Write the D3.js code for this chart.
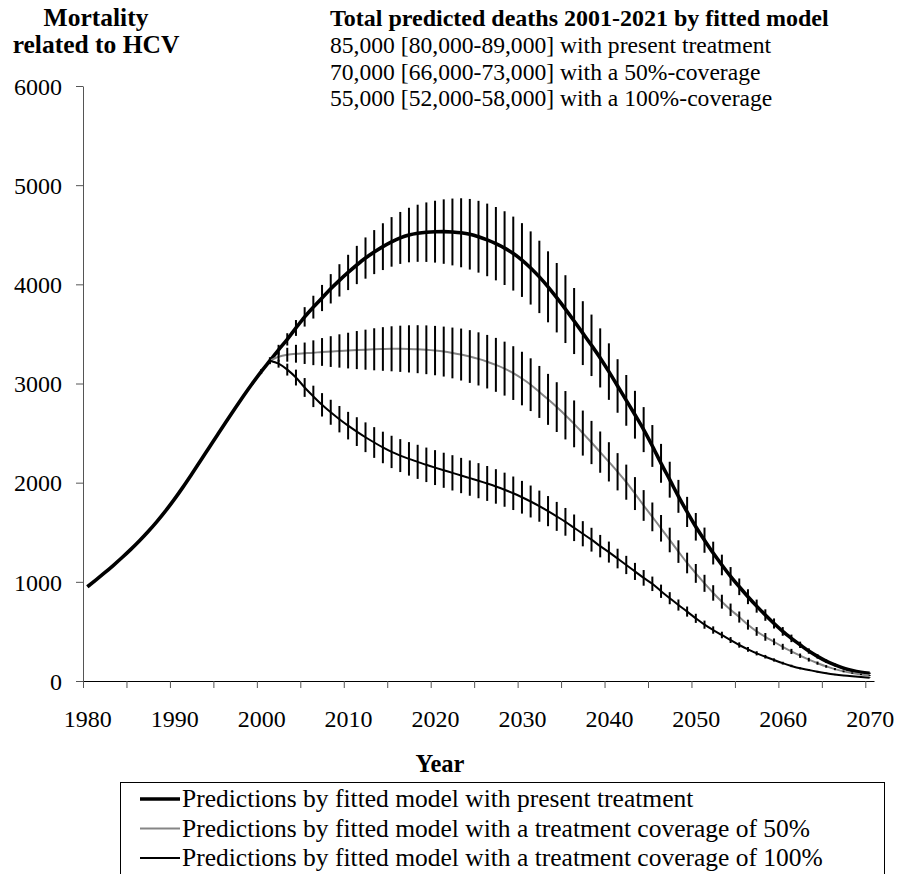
<!DOCTYPE html>
<html>
<head>
<meta charset="utf-8">
<script src="https://d3js.org/d3.v7.min.js"></script>
<style>
  body { margin: 0; background: #fff; }
</style>
</head>
<body>
<div id="chart"></div>
<script>
// categories: one per year
const firstYear = 1980, lastYear = 2070;
const years = d3.range(firstYear, lastYear + 1);
const labelYears = [1980, 1990, 2000, 2010, 2020, 2030, 2040, 2050, 2060, 2070];
const yTicks = [0, 1000, 2000, 3000, 4000, 5000, 6000];

// predictions with present treatment, 1980-2070
const present = [950, 1020, 1092, 1167, 1245, 1327, 1414, 1507, 1607, 1715,
  1831, 1955, 2085, 2218, 2352, 2486, 2619, 2750, 2878, 3002,
  3120, 3230, 3340, 3445, 3560, 3672, 3770, 3862, 3955, 4040,
  4120, 4195, 4265, 4325, 4380, 4428, 4468, 4497, 4515, 4526,
  4531, 4532, 4528, 4520, 4505, 4480, 4448, 4410, 4365, 4310,
  4245, 4165, 4075, 3975, 3865, 3750, 3630, 3508, 3385, 3258,
  3120, 2975, 2830, 2685, 2535, 2370, 2195, 2030, 1862, 1705,
  1555, 1420, 1290, 1170, 1055, 950, 850, 755, 665, 580,
  500, 430, 365, 302, 248, 200, 162, 130, 105, 88,
  78];
// half width of the bars, 1999-2070
const presentErr = [15, 25, 35, 50, 62, 80, 98, 115, 132, 148,
  163, 178, 193, 208, 222, 236, 250, 262, 275, 288,
  300, 312, 325, 337, 348, 356, 362, 366, 370, 372,
  373, 372, 369, 365, 358, 350, 342, 333, 322, 310,
  298, 285, 270, 256, 241, 227, 211, 196, 181, 166,
  152, 139, 127, 115, 104, 94, 84, 75, 66, 58,
  51, 44, 38, 32, 27, 22, 18, 15, 12, 10,
  8, 7];

// coverage 50%, 2001-2070
const cov50 = [3230, 3270, 3290, 3300, 3305, 3310, 3318, 3322, 3328, 3332,
  3337, 3341, 3345, 3348, 3350, 3350, 3349, 3346, 3340, 3332,
  3322, 3308, 3292, 3272, 3248, 3220, 3188, 3150, 3105, 3050,
  2988, 2915, 2840, 2762, 2680, 2593, 2500, 2405, 2308, 2210,
  2110, 2005, 1890, 1770, 1655, 1540, 1422, 1305, 1190, 1085,
  985, 888, 800, 718, 645, 568, 500, 445, 395, 345,
  298, 255, 215, 180, 147, 120, 97, 80, 66, 55];
// 2002-2070
const cov50Err = [50, 70, 90, 108, 125, 140, 155, 168, 180, 192,
  202, 212, 220, 227, 233, 238, 242, 246, 249, 252,
  256, 262, 266, 268, 270, 272, 272, 271, 270, 266,
  262, 257, 251, 244, 236, 227, 218, 208, 198, 188,
  177, 166, 155, 145, 134, 124, 114, 104, 95, 86,
  78, 70, 63, 56, 50, 44, 39, 34, 30, 26,
  22, 19, 16, 13, 11, 9, 7, 6, 5];

// coverage 100%, 2001-2070
const cov100 = [3230, 3200, 3140, 3060, 2960, 2870, 2785, 2710, 2640, 2575,
  2515, 2458, 2405, 2355, 2310, 2273, 2240, 2210, 2180, 2152,
  2125, 2099, 2072, 2046, 2020, 1992, 1962, 1929, 1893, 1853,
  1810, 1763, 1713, 1660, 1605, 1545, 1485, 1425, 1360, 1300,
  1235, 1170, 1105, 1040, 980, 905, 835, 766, 700, 632,
  568, 514, 464, 413, 363, 319, 279, 245, 212, 180,
  152, 128, 111, 94, 78, 65, 55, 47, 40, 34];
// 2002-2070
const cov100Err = [40, 60, 80, 95, 108, 118, 126, 133, 139, 145,
  150, 155, 159, 163, 166, 169, 172, 174, 176, 177,
  178, 178, 178, 177, 176, 174, 172, 169, 165, 161,
  157, 152, 146, 140, 134, 127, 120, 113, 106, 99,
  92, 86, 79, 73, 67, 61, 56, 51, 46, 41,
  37, 33, 30, 27, 24, 21, 18, 16, 14, 12,
  10, 9, 8, 7, 6, 5, 4, 4, 3];

const summary = [
  "85,000 [80,000-89,000] with present treatment",
  "70,000 [66,000-73,000] with a 50%-coverage",
  "55,000 [52,000-58,000] with a 100%-coverage"
];
const legendNames = [
  "Predictions by fitted model with present treatment",
  "Predictions by fitted model with a treatment coverage of 50%",
  "Predictions by fitted model with a treatment coverage of 100%"
];

function toPoints(vals, start) {
  return vals.map((v, i) => ({year: start + i, v: v}));
}
function toBars(vals, errs, start, errStart) {
  return errs.map((e, i) => {
    const yr = errStart + i;
    return {year: yr, v: vals[yr - start], e: e};
  });
}

const series = [
  {name: legendNames[0], pts: toPoints(present, 1980), bars: toBars(present, presentErr, 1980, 1999), color: "#000", w: 3.6},
  {name: legendNames[1], pts: toPoints(cov50, 2001), bars: toBars(cov50, cov50Err, 2001, 2002), color: "#858585", w: 2},
  {name: legendNames[2], pts: toPoints(cov100, 2001), bars: toBars(cov100, cov100Err, 2001, 2002), color: "#000", w: 2}
];

const FONT = "'Liberation Serif', 'Times New Roman', serif";
const W = 899, H = 874;
const svg = d3.select("#chart").append("svg")
  .attr("width", W).attr("height", H)
  .style("font-family", FONT);

const x = d3.scaleLinear().domain([firstYear - 0.5, lastYear + 0.5]).range([83, 874]);
const y = d3.scaleLinear().domain([0, 6000]).range([681, 86]);
const fs = 24;

// y axis
const yAx = svg.append("g")
  .attr("transform", "translate(83,0)")
  .call(d3.axisLeft(y).tickValues(yTicks).tickSize(7).tickSizeOuter(0).tickPadding(14).tickFormat(d3.format("d")));
yAx.attr("font-family", null).attr("font-size", null);
yAx.select(".domain").attr("stroke", "#555");
yAx.selectAll(".tick line").attr("stroke", "#555");
yAx.selectAll("text").style("font-size", fs + "px").style("font-family", FONT).attr("dy", "0.34em");

// x axis: tick marks between categories, every 5 years
const boundaries = d3.range(0, 19).map(k => firstYear - 0.5 + k * 5);
const xAx = svg.append("g")
  .attr("transform", "translate(0,681)")
  .call(d3.axisBottom(x).tickValues(boundaries).tickSize(7).tickSizeOuter(0).tickFormat(""));
xAx.select(".domain").attr("stroke", "#000");
xAx.selectAll(".tick line").attr("stroke", "#555");

const xLab = svg.append("g")
  .attr("transform", "translate(0,681)")
  .call(d3.axisBottom(x).tickValues(labelYears).tickSize(0).tickPadding(29).tickFormat(d3.format("d")));
xLab.attr("font-family", null).attr("font-size", null);
xLab.select(".domain").remove();
xLab.selectAll("text").style("font-size", fs + "px").style("font-family", FONT);

// lines
const line = d3.line()
  .x(d => x(d.year))
  .y(d => y(d.v))
  .curve(d3.curveMonotoneX);

series.forEach(s => {
  svg.append("path")
    .datum(s.pts)
    .attr("d", line)
    .attr("fill", "none")
    .attr("stroke", s.color)
    .attr("stroke-width", s.w)
    .attr("stroke-linejoin", "round");
});

// error bars
series.forEach(s => {
  svg.append("g")
    .selectAll("line")
    .data(s.bars)
    .join("line")
      .attr("x1", d => x(d.year))
      .attr("x2", d => x(d.year))
      .attr("y1", d => y(d.v - d.e))
      .attr("y2", d => y(d.v + d.e))
      .attr("stroke", "#000")
      .attr("stroke-width", 2);
});

function addText(tx, ty, str, bold, anchor, size) {
  return svg.append("text")
    .attr("x", tx).attr("y", ty)
    .attr("text-anchor", anchor || "start")
    .style("font-family", FONT)
    .style("font-size", (size || fs) + "px")
    .style("font-weight", bold ? "bold" : "normal")
    .text(str);
}

// titles
addText(96, 26, "Mortality", true, "middle", 25.5);
addText(96, 53, "related to HCV", true, "middle", 25.5);
addText(330, 26, "Total predicted deaths 2001-2021 by fitted model", true);
summary.forEach((s, i) => addText(330, 53 + i * 26.5, s, false, "start", 23.6));
addText(440, 772, "Year", true, "middle", 24.5);

// legend
svg.append("rect")
  .attr("x", 120.5).attr("y", 782.5)
  .attr("width", 764).attr("height", 120)
  .attr("fill", "none").attr("stroke", "#000").attr("stroke-width", 1);

series.forEach((s, i) => {
  const ly = 807 + i * 29.5;
  svg.append("line")
    .attr("x1", 140).attr("x2", 180)
    .attr("y1", ly - 8).attr("y2", ly - 8)
    .attr("stroke", s.color)
    .attr("stroke-width", s.w);
  addText(182, ly, s.name, false, "start", 25.5);
});
</script>
</body>
</html>
